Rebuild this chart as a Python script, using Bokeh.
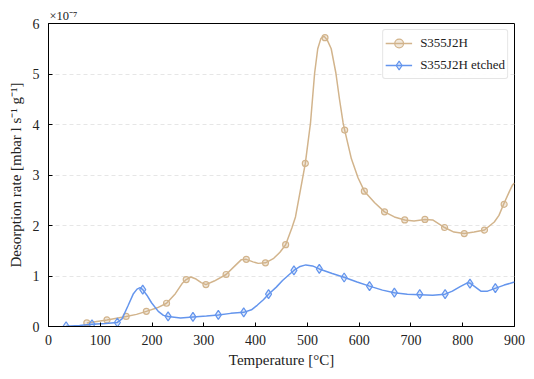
from bokeh.plotting import figure
from bokeh.models import Range1d, FixedTicker, Legend, LegendItem
from bokeh.embed import file_html
from bokeh.resources import INLINE

# y values are in units of 1e-7 mbar l s^-1 g^-1
# S355J2H : curve readings
tan_x = [74, 113, 150, 170, 189, 210, 228, 245, 258, 266, 275, 285, 295, 304, 320,
         343, 360, 372, 382, 395, 405, 419, 435, 447, 458, 470, 477, 489, 496, 506,
         514, 520, 526, 532, 538, 546, 555, 562, 569, 572, 585, 598, 610, 630, 649,
         668, 688, 706, 727, 742, 765, 783, 803, 822, 842, 861, 870, 879, 890, 896, 900]
tan_y = [0.07, 0.13, 0.20, 0.24, 0.30, 0.37, 0.46, 0.65, 0.85, 0.93, 0.98, 0.94, 0.87, 0.83, 0.90,
         1.03, 1.20, 1.32, 1.33, 1.28, 1.25, 1.26, 1.35, 1.47, 1.62, 1.95, 2.17, 2.84, 3.23, 4.03,
         5.02, 5.50, 5.70, 5.75, 5.68, 5.50, 5.02, 4.50, 4.03, 3.89, 3.32, 2.94, 2.68, 2.45, 2.27,
         2.17, 2.11, 2.09, 2.12, 2.11, 1.96, 1.87, 1.84, 1.87, 1.91, 2.07, 2.20, 2.42, 2.67, 2.80, 2.84]
# S355J2H : marker readings
tan_mx = [74, 113, 150, 189, 228, 266, 304, 343, 382, 419, 458, 496, 534, 572, 610,
          649, 688, 727, 765, 803, 842, 880]
tan_my = [0.07, 0.13, 0.20, 0.30, 0.46, 0.93, 0.83, 1.03, 1.33, 1.26, 1.62, 3.23, 5.72, 3.89, 2.68,
          2.27, 2.11, 2.12, 1.96, 1.84, 1.91, 2.42]

# S355J2H etched : curve readings
blue_x = [34, 60, 84, 110, 133, 142, 154, 164, 171, 177, 182, 190, 199, 212, 222, 231, 255,
          279, 305, 328, 352, 377, 392, 403, 415, 425, 440, 452, 465, 474, 486, 497, 510,
          523, 548, 572, 596, 620, 645, 668, 693, 717, 742, 766, 780, 795, 808, 814, 822,
          835, 848, 864, 880, 900]
blue_y = [0.005, 0.02, 0.045, 0.06, 0.08, 0.15, 0.42, 0.65, 0.74, 0.77, 0.73, 0.62, 0.47, 0.30, 0.22, 0.20, 0.17,
          0.19, 0.21, 0.23, 0.26, 0.28, 0.33, 0.42, 0.53, 0.64, 0.78, 0.91, 1.03, 1.11, 1.19, 1.22, 1.20,
          1.14, 1.05, 0.97, 0.88, 0.80, 0.72, 0.67, 0.64, 0.63, 0.62, 0.64, 0.70, 0.79, 0.86, 0.86, 0.80,
          0.70, 0.70, 0.76, 0.82, 0.88]
# S355J2H etched : marker readings
blue_mx = [34, 84, 133, 182, 231, 279, 328, 377, 425, 474, 523, 571, 620, 668, 717, 766, 814, 863]
blue_my = [0.005, 0.045, 0.08, 0.73, 0.20, 0.19, 0.23, 0.28, 0.64, 1.11, 1.14, 0.97, 0.80, 0.67, 0.64, 0.64, 0.85, 0.76]

x_ticks = [0, 100, 200, 300, 400, 500, 600, 700, 800, 900]
y_ticks = [0, 1, 2, 3, 4, 5, 6]

TAN = "#D2B48C"
BLUE = "#6495ED"
FONT = "Liberation Serif"

p = figure(width=526, height=371, output_backend="svg", toolbar_location=None,
           x_range=Range1d(0, 900), y_range=Range1d(0, 6),
           min_border_left=48, min_border_right=12, min_border_top=23, min_border_bottom=45)

p.title.text = "×10⁻⁷"
p.title.text_font = FONT
p.title.text_font_size = "12.5px"
p.title.text_font_style = "normal"
p.title.text_color = "#222222"
p.title.align = "left"
p.title.offset = 1
p.title.standoff = 1

p.background_fill_color = "white"
p.border_fill_color = "white"
p.outline_line_color = "black"
p.outline_line_width = 1

p.xgrid.visible = False
p.ygrid.grid_line_color = "#e6e6e6"
p.ygrid.grid_line_dash = "4 3"
p.ygrid.grid_line_width = 1

p.xaxis.ticker = FixedTicker(ticks=x_ticks)
p.yaxis.ticker = FixedTicker(ticks=y_ticks)
for ax in (p.xaxis[0], p.yaxis[0]):
    ax.major_tick_in = 4
    ax.major_tick_out = 0
    ax.minor_tick_line_color = None
    ax.axis_line_color = "black"
    ax.major_tick_line_color = "black"
    ax.major_label_text_font = FONT
    ax.major_label_text_font_size = "14px"
    ax.major_label_text_color = "#222222"
    ax.axis_label_text_font = FONT
    ax.axis_label_text_font_size = "15px"
    ax.axis_label_text_font_style = "normal"
    ax.axis_label_text_color = "#222222"

p.xaxis.axis_label = "Temperature [°C]"
p.yaxis.axis_label = "Desorption rate [mbar l s⁻¹ g⁻¹]"
p.xaxis.major_label_standoff = 8
p.xaxis.axis_label_standoff = 4
p.yaxis.major_label_standoff = 9
p.yaxis.axis_label_standoff = 6

tl = p.line(tan_x, tan_y, line_color=TAN, line_width=1.5)
tm = p.scatter(tan_mx, tan_my, marker="circle", size=6, line_color=TAN, line_width=1.2,
               fill_color=TAN, fill_alpha=0.3)
bl = p.line(blue_x, blue_y, line_color=BLUE, line_width=1.5)
bm = p.scatter(blue_mx, blue_my, marker="diamond", size=9, line_color=BLUE, line_width=1.2,
               fill_color=BLUE, fill_alpha=0.2)

legend = Legend(items=[LegendItem(label="S355J2H", renderers=[tl, tm]),
                       LegendItem(label="S355J2H etched", renderers=[bl, bm])],
                location="top_right")
legend.label_text_font = FONT
legend.label_text_font_size = "13px"
legend.label_text_color = "#222222"
legend.glyph_width = 27
legend.glyph_height = 22
legend.label_height = 18
legend.spacing = -4
legend.padding = 2
legend.margin = 6
legend.label_standoff = 8
legend.border_line_color = "#cccccc"
legend.border_line_width = 1
legend.border_radius = 3
legend.background_fill_alpha = 0.9
p.add_layout(legend)

open("out.html", "w").write(file_html(p, INLINE))
